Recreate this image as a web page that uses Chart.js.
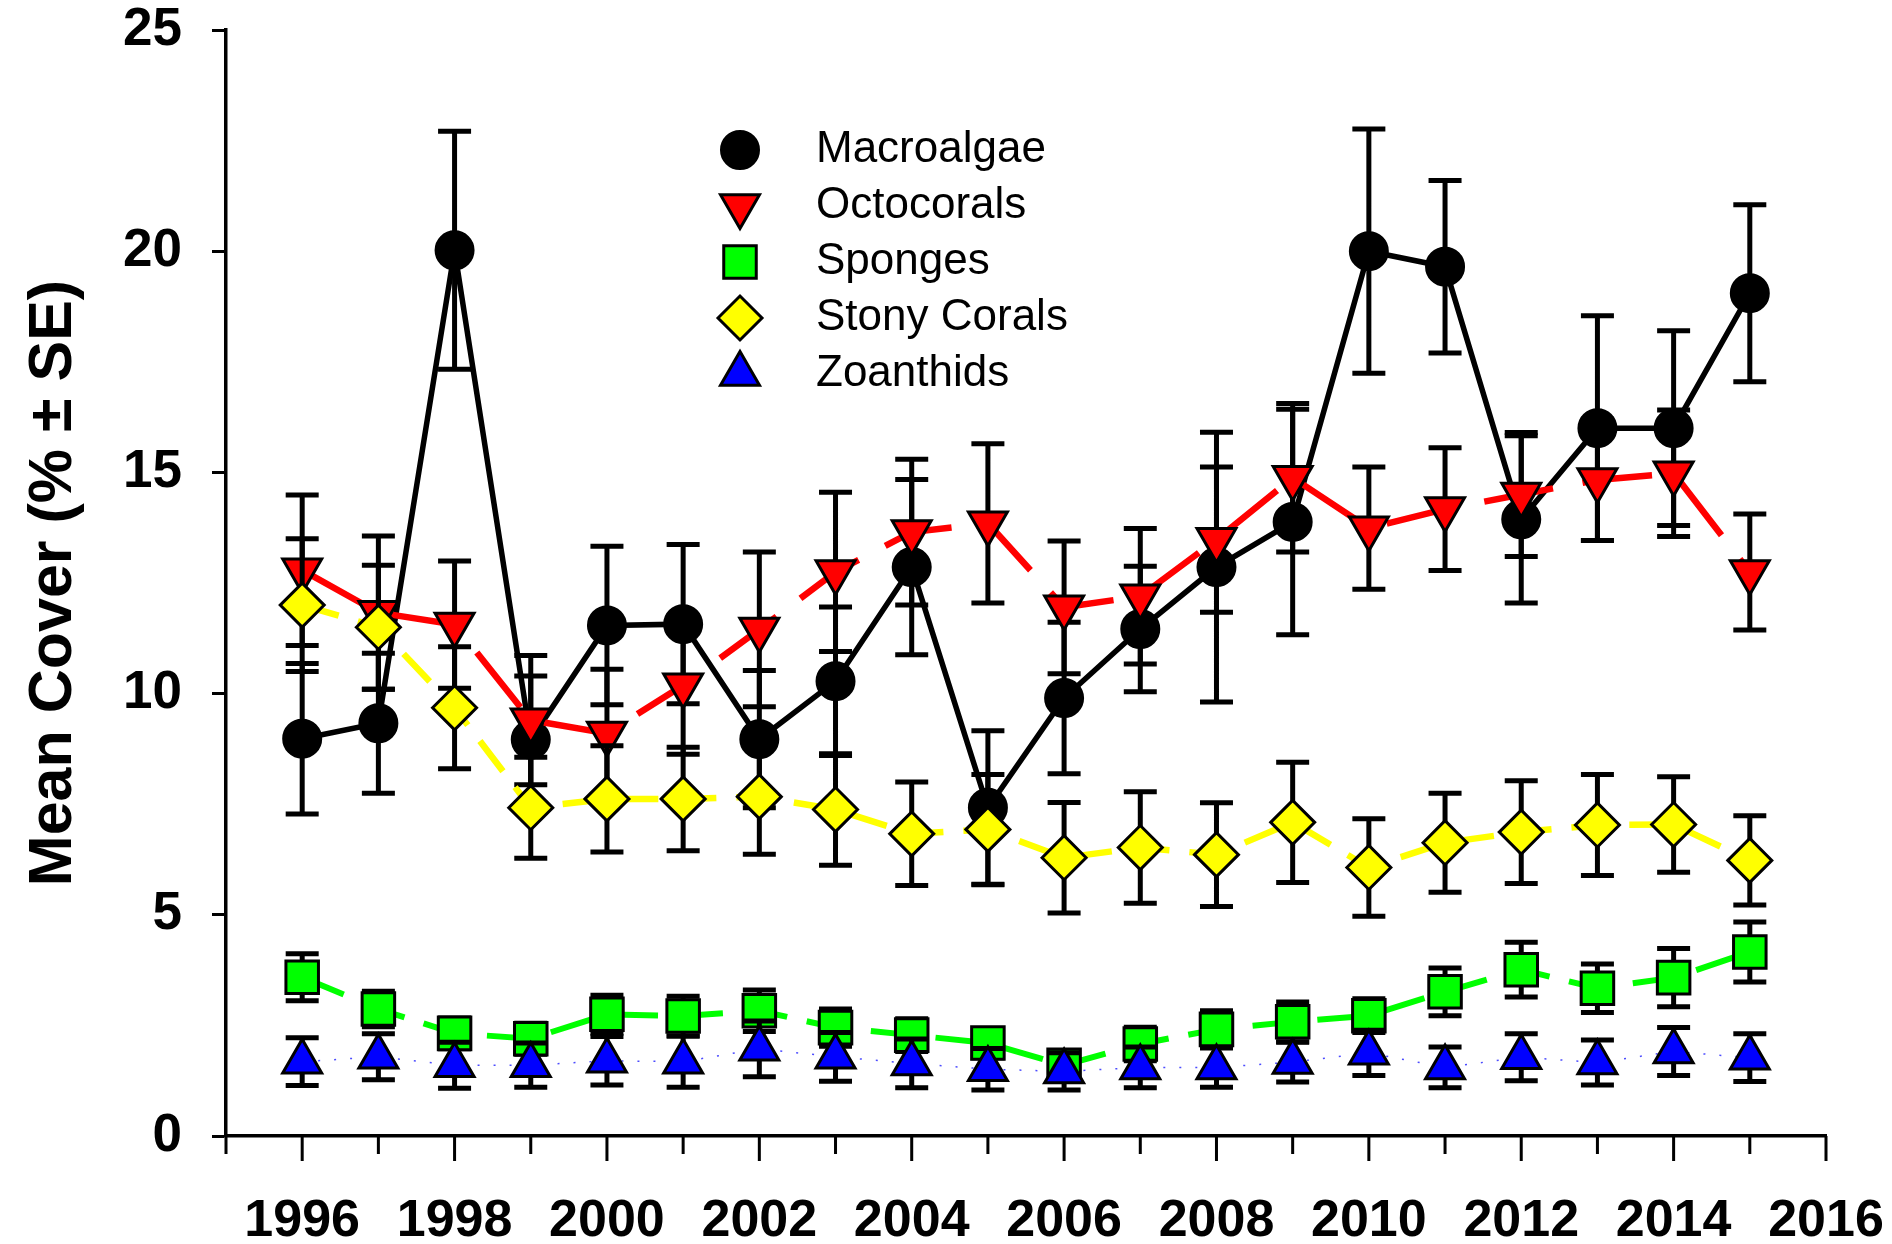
<!DOCTYPE html>
<html>
<head>
<meta charset="utf-8">
<script src="https://cdn.jsdelivr.net/npm/chart.js@4.4.0/dist/chart.umd.min.js"></script>
<style>
  html, body { margin: 0; padding: 0; background: #fff; }
  #wrap { width: 1892px; height: 1244px; position: relative; }
</style>
</head>
<body>
<div id="wrap"><canvas id="chart"></canvas></div>
<script>
const years = [1996, 1997, 1998, 1999, 2000, 2001, 2002, 2003, 2004, 2005,
               2006, 2007, 2008, 2009, 2010, 2011, 2012, 2013, 2014, 2015];

const macroalgae   = [8.98, 9.33, 20.02, 8.96, 11.54, 11.57, 8.97, 10.28, 12.86, 7.42,
                      9.90, 11.46, 12.86, 13.88, 20.00, 19.65, 13.94, 16.00, 16.00, 19.05];
const macroalgaeSE = [1.70, 1.58, 2.69, 1.44, 1.79, 1.80, 1.55, 1.68, 1.98, 1.74,
                      1.71, 1.42, 3.05, 2.55, 2.76, 1.95, 1.89, 2.54, 2.20, 2.00];

const octocorals   = [12.79, 11.83, 11.56, 9.40, 9.10, 10.19, 11.45, 12.75, 13.65, 13.85,
                      11.95, 12.20, 13.48, 14.88, 13.74, 14.17, 14.50, 14.83, 14.98, 12.75];
const octocoralsSE = [1.70, 1.73, 1.44, 1.46, 1.45, 1.56, 1.75, 1.80, 1.65, 1.80,
                      1.50, 1.53, 1.64, 1.68, 1.38, 1.39, 1.40, 1.37, 1.43, 1.31];

const sponges   = [3.59, 2.87, 2.32, 2.20, 2.75, 2.71, 2.83, 2.45, 2.28, 2.10,
                   1.60, 2.08, 2.41, 2.58, 2.72, 3.26, 3.76, 3.34, 3.58, 4.16];
const spongesSE = [0.53, 0.40, 0.35, 0.35, 0.43, 0.45, 0.47, 0.42, 0.37, 0.33,
                   0.30, 0.38, 0.42, 0.45, 0.38, 0.54, 0.62, 0.55, 0.66, 0.68];

const stonyCorals   = [12.00, 11.50, 9.68, 7.42, 7.62, 7.62, 7.67, 7.38, 6.83, 6.93,
                       6.29, 6.52, 6.36, 7.09, 6.07, 6.63, 6.87, 7.03, 7.04, 6.23];
const stonyCoralsSE = [1.50, 1.40, 1.38, 1.14, 1.20, 1.17, 1.30, 1.26, 1.17, 1.24,
                       1.25, 1.26, 1.17, 1.36, 1.10, 1.12, 1.16, 1.14, 1.08, 1.01];

const zoanthids   = [1.68, 1.79, 1.60, 1.60, 1.70, 1.68, 1.97, 1.79, 1.64, 1.51,
                     1.46, 1.55, 1.55, 1.67, 1.88, 1.55, 1.78, 1.66, 1.91, 1.77];
const zoanthidsSE = [0.54, 0.52, 0.52, 0.50, 0.55, 0.58, 0.63, 0.55, 0.55, 0.47,
                     0.42, 0.46, 0.45, 0.45, 0.51, 0.46, 0.53, 0.51, 0.54, 0.54];

const xMin = 1995, xMax = 2016;
const yMin = 0, yMax = 25, yStep = 5;

const FONT = '"Liberation Sans", Arial, Helvetica, sans-serif';
Chart.defaults.font.family = FONT;
Chart.defaults.color = '#000';

function toPoints(vals) {
  return years.map((yr, i) => ({ x: yr, y: vals[i] }));
}

// scales should not push the plot area around for overhanging labels
function noScalePadding(s) {
  s.paddingLeft = 0; s.paddingRight = 0;
  s.paddingTop = 0; s.paddingBottom = 0;
}

// vertical error bars with caps, drawn just before each series
const errorBars = {
  id: 'errorBars',
  beforeDatasetDraw(chart, args) {
    const ds = chart.data.datasets[args.index];
    if (!ds.se) return;
    const { ctx, scales: { x, y } } = chart;
    const cap = 16.5;
    ctx.save();
    ctx.strokeStyle = '#000';
    ctx.lineWidth = 5;
    ctx.beginPath();
    ds.data.forEach((p, i) => {
      const px = x.getPixelForValue(p.x);
      const hi = y.getPixelForValue(p.y + ds.se[i]);
      const lo = y.getPixelForValue(p.y - ds.se[i]);
      ctx.moveTo(px, hi); ctx.lineTo(px, lo);
      ctx.moveTo(px - cap, hi); ctx.lineTo(px + cap, hi);
      ctx.moveTo(px - cap, lo); ctx.lineTo(px + cap, lo);
    });
    ctx.stroke();
    ctx.restore();
  }
};

// x ticks: long on even years, short on odd years
const xTickMarks = {
  id: 'xTickMarks',
  afterDraw(chart) {
    const { ctx, scales: { x }, chartArea } = chart;
    ctx.save();
    ctx.strokeStyle = '#000';
    ctx.lineWidth = 3;
    ctx.beginPath();
    x.ticks.forEach(t => {
      const px = x.getPixelForValue(t.value);
      const len = t.value % 2 === 0 ? 25 : 18;
      ctx.moveTo(px, chartArea.bottom);
      ctx.lineTo(px, chartArea.bottom + len);
    });
    ctx.stroke();
    ctx.restore();
  }
};

// symbol legend inside the plot
const symbolLegend = {
  id: 'symbolLegend',
  afterDraw(chart) {
    const { ctx, chartArea } = chart;
    const x0 = chartArea.left + 514;
    const y0 = chartArea.top + 120;
    const step = 56;
    ctx.save();
    ctx.font = '44px ' + FONT;
    ctx.textBaseline = 'middle';
    ctx.textAlign = 'left';
    chart.data.datasets.forEach((ds, i) => {
      const yy = y0 + i * step;
      ctx.fillStyle = ds.pointBackgroundColor;
      ctx.strokeStyle = '#000';
      ctx.lineWidth = ds.pointBorderWidth;
      Chart.helpers.drawPoint(ctx, {
        pointStyle: ds.pointStyle,
        rotation: ds.pointRotation || 0,
        radius: ds.pointRadius,
        borderWidth: ds.pointBorderWidth
      }, x0, yy);
      ctx.fillStyle = '#000';
      ctx.fillText(ds.label, x0 + 76, yy);
    });
    ctx.restore();
  }
};

const datasets = [
  {
    label: 'Macroalgae', data: toPoints(macroalgae), se: macroalgaeSE,
    borderColor: '#000', borderWidth: 5.5,
    pointStyle: 'circle', pointRadius: 19, pointBackgroundColor: '#000',
    pointBorderColor: '#000', pointBorderWidth: 2, order: 4
  },
  {
    label: 'Octocorals', data: toPoints(octocorals), se: octocoralsSE,
    borderColor: '#ff0000', borderWidth: 6.5, borderDash: [70, 30],
    pointStyle: 'triangle', pointRotation: 180, pointRadius: 22.5, pointBackgroundColor: '#ff0000',
    pointBorderColor: '#000', pointBorderWidth: 3, order: 3
  },
  {
    label: 'Sponges', data: toPoints(sponges), se: spongesSE,
    borderColor: '#00ff00', borderWidth: 6, borderDash: [45, 20],
    pointStyle: 'rect', pointRadius: 23, pointBackgroundColor: '#00ff00',
    pointBorderColor: '#000', pointBorderWidth: 3, order: 2
  },
  {
    label: 'Stony Corals', data: toPoints(stonyCorals), se: stonyCoralsSE,
    borderColor: '#ffff00', borderWidth: 6.5, borderDash: [38, 20],
    pointStyle: 'rectRot', pointRadius: 22, pointBackgroundColor: '#ffff00',
    pointBorderColor: '#000', pointBorderWidth: 3, order: 1
  },
  {
    label: 'Zoanthids', data: toPoints(zoanthids), se: zoanthidsSE,
    borderColor: 'rgba(0,0,255,0.7)', borderWidth: 1.5, borderDash: [2, 14],
    pointStyle: 'triangle', pointRadius: 22.5, pointBackgroundColor: '#0000ff',
    pointBorderColor: '#000', pointBorderWidth: 3, order: 0
  }
];

new Chart(document.getElementById('chart'), {
  type: 'line',
  data: { datasets },
  options: {
    responsive: true,
    maintainAspectRatio: false,
    animation: false,
    events: [],
    layout: { padding: { top: 30, right: 66, left: 0, bottom: 0 } },
    elements: { line: { tension: 0 } },
    plugins: {
      legend: { display: false },
      tooltip: { enabled: false }
    },
    scales: {
      x: {
        type: 'linear',
        min: xMin, max: xMax,
        afterFit: s => { s.height = 108; noScalePadding(s); },
        grid: { display: false },
        border: { display: true, color: '#000', width: 3.5 },
        ticks: {
          stepSize: 1, autoSkip: false, maxRotation: 0, padding: 46,
          font: { size: 52, weight: 'bold' },
          callback: v => (v % 2 === 0 ? String(v) : '')
        }
      },
      y: {
        min: yMin, max: yMax,
        afterFit: s => { s.width = 226; noScalePadding(s); },
        grid: { drawOnChartArea: false, drawTicks: true, tickLength: 14, tickWidth: 3, tickColor: '#000' },
        border: { display: true, color: '#000', width: 3.5 },
        ticks: { stepSize: yStep, padding: 30, font: { size: 53, weight: 'bold' } },
        title: {
          display: true, text: 'Mean Cover (% ± SE)',
          font: { size: 61, weight: 'bold' }, padding: { top: 18, bottom: 0 }
        }
      }
    }
  },
  plugins: [errorBars, xTickMarks, symbolLegend]
});
</script>
</body>
</html>
